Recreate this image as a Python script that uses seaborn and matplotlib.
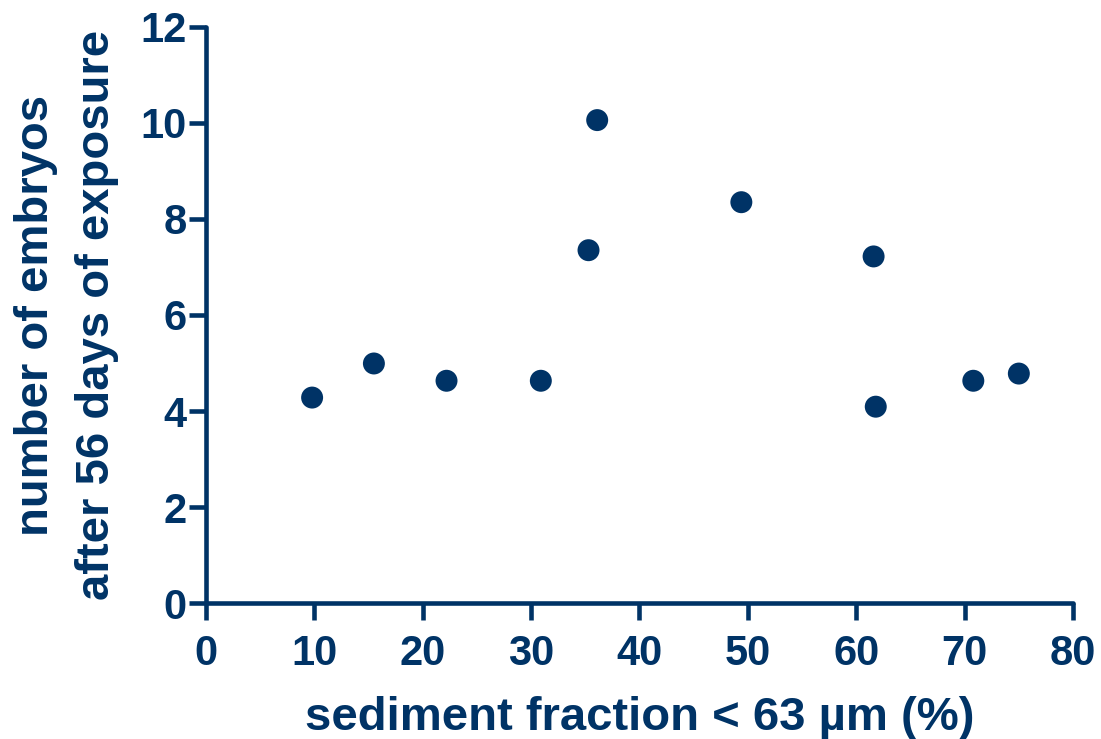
import matplotlib
matplotlib.use("Agg")
import matplotlib.pyplot as plt
import seaborn as sns
import pandas as pd

sediment_fraction = [9.8, 15.5, 22.2, 30.9, 35.3, 36.1, 49.4, 61.6, 61.8, 70.8, 75.0]
embryos = [4.28, 4.99, 4.63, 4.63, 7.35, 10.06, 8.35, 7.22, 4.09, 4.63, 4.78]
x_ticks = [0, 10, 20, 30, 40, 50, 60, 70, 80]
y_ticks = [0, 2, 4, 6, 8, 10, 12]

color = "#003366"
sns.set_style("ticks")
plt.rcParams['font.family'] = ['Liberation Sans', 'DejaVu Sans']
plt.rcParams['font.weight'] = 'bold'

df = pd.DataFrame({"x": sediment_fraction, "y": embryos})

fig = plt.figure(figsize=(11.01, 7.39), dpi=100)
ax = fig.add_axes([0.187, 0.184, 0.7876, 0.7795])
sns.scatterplot(data=df, x="x", y="y", ax=ax, s=250, color=color, edgecolor="none", linewidth=0)

ax.set_xlim(0, 80)
ax.set_ylim(0, 12)
ax.set_xticks(x_ticks)
ax.set_yticks(y_ticks)
for s in ["top", "right"]:
    ax.spines[s].set_visible(False)
for s in ["left", "bottom"]:
    ax.spines[s].set_color(color)
    ax.spines[s].set_linewidth(3.3)
    ax.spines[s].set_capstyle("round")
ax.tick_params(axis="both", direction="out", length=12, width=3.3, color=color,
               labelcolor=color, labelsize=30, bottom=True, left=True)
ax.tick_params(axis="x", pad=10)
ax.tick_params(axis="y", pad=2)
for lab in ax.get_xticklabels() + ax.get_yticklabels():
    lab.set_fontweight("bold")
ax.set_xlabel("sediment fraction < 63 µm (%)", fontsize=34, fontweight="bold", color=color, labelpad=16)
ax.set_ylabel("number of embryos\nafter 56 days of exposure", fontsize=34, fontweight="bold",
              color=color, labelpad=15, linespacing=1.5)
for line in ax.xaxis.get_ticklines() + ax.yaxis.get_ticklines():
    line.set_solid_capstyle("round")
for c in ax.collections:
    c.set_clip_on(False)

fig.savefig("out.png", dpi=100)
